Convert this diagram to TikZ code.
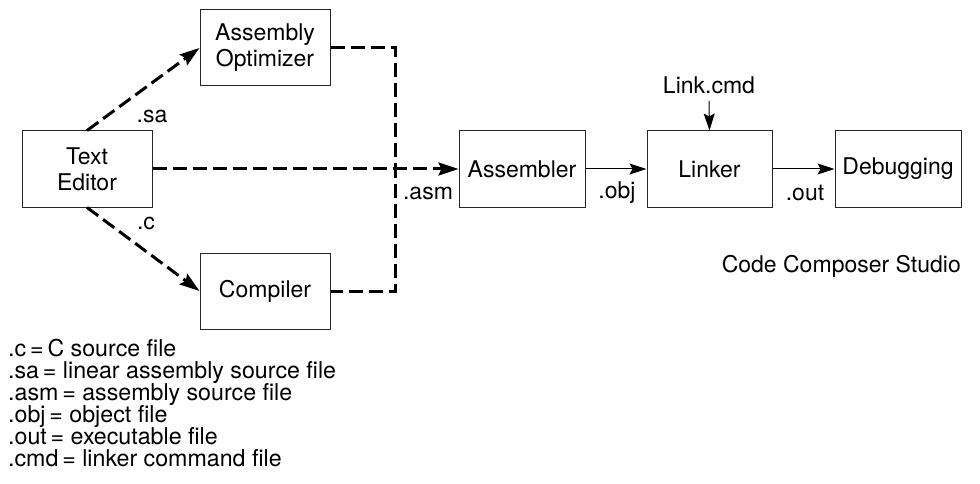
\documentclass[tikz,border=0pt]{standalone}
\usepackage{fontspec}
\setmainfont{TeX Gyre Heros}
\usetikzlibrary{arrows.meta,positioning}
\begin{document}
\begin{tikzpicture}[x=1pt,y=-1pt,
  box/.style={draw=black!85,line width=1pt,minimum width=#1,minimum height=76pt,inner sep=0pt,align=center,
    font=\fontsize{23}{26}\selectfont},
  box/.default=130pt,
  lbl/.style={inner sep=0pt,font=\fontsize{23}{26}\selectfont},
  leg/.style={inner sep=0pt,anchor=base west,font=\fontsize{23.2}{22}\selectfont},
  dashflow/.style={line width=3pt,dash pattern=on 14pt off 6pt,black},
  thinflow/.style={line width=1pt,black},
  tipd/.style={-{Stealth[length=20pt,width=13pt,inset=3pt]}},
  tipt/.style={-{Stealth[length=17pt,width=11pt,inset=3pt]}}]
\useasboundingbox (0,0) rectangle (980,484);
% boxes
\node[box] (te) at (87,169) {Text\\Editor};
\node[box] (ao) at (265,48) {Assembly\\Optimizer};
\node[box] (co) at (265,291) {Compiler};
\node[box=126pt] (as) at (522,169) {Assembler};
\node[box=125pt] (li) at (709.5,169) {Linker};
\node[box=126pt] (de) at (898,169) {Debugging};
% labels
\node[lbl] (lsa) at (152,116) {.sa};
\node[lbl] (lc) at (146,223) {.c};
\node[lbl] (lasm) at (428,193) {.asm};
\node[lbl] (lobj) at (617,193) {.obj};
\node[lbl] (lout) at (805,193) {.out};
\node[lbl] (lcmd) at (709,85) {Link.cmd};
\node[lbl,anchor=east] (ccs) at (961,266) {Code Composer Studio};
% dashed flows
\coordinate (jt) at (395,48);
\coordinate (jb) at (395,291);
\draw[dashflow,tipd] (te.north) -- (ao.west);
\draw[dashflow,tipd] (te.south) -- (co.west);
\draw[dashflow] (ao.east) -- (jt) -- (jb) -- (co.east);
\draw[dashflow,tipd] (te.east) -- (as.west);
% solid flows
\draw[thinflow,tipt] (as.east) -- (li.west);
\draw[thinflow,tipt] (li.east) -- (de.west);
\draw[thinflow,tipt] (lcmd.south |- 0,101) -- (li.north);
% legend
\node[leg] (l1) at (8,356) {.c\,=\,C source file};
\node[leg] (l2) at (8,378) {.sa\,= linear assembly source file};
\node[leg] (l3) at (8,400) {.asm\,= assembly source file};
\node[leg] (l4) at (8,422) {.obj\,= object file};
\node[leg] (l5) at (8,444) {.out\,= executable file};
\node[leg] (l6) at (8,466) {.cmd\,= linker command file};
\end{tikzpicture}
\end{document}
